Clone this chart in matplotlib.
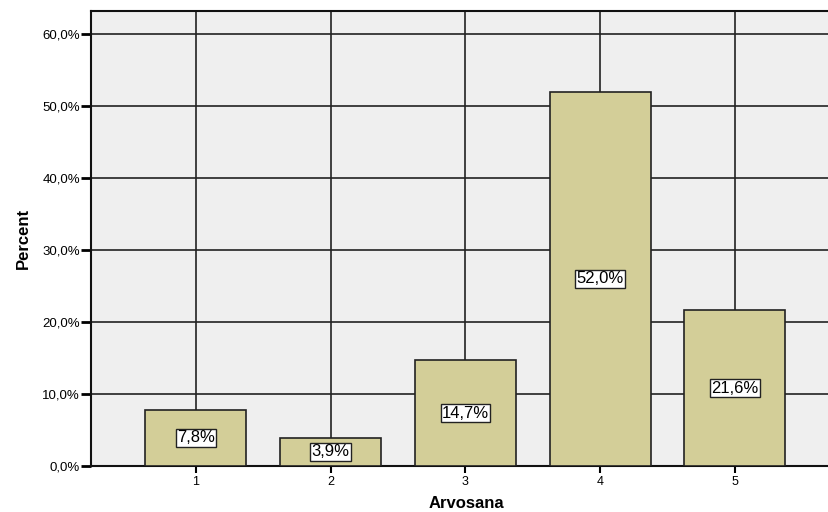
import matplotlib.pyplot as plt

categories = ["1", "2", "3", "4", "5"]
percents = [7.8, 3.9, 14.7, 52.0, 21.6]
yticks = [0, 10, 20, 30, 40, 50, 60]

plt.rcParams['font.family'] = ['Liberation Sans', 'DejaVu Sans']

fig = plt.figure(figsize=(8.29, 5.12), dpi=100)
ax = fig.add_axes([91/829, 46/512, 745/829, 455/512])
ax.set_facecolor('#efefef')

x = list(range(1, len(categories) + 1))
ax.bar(x, percents, width=0.75, color='#d3ce98', edgecolor='#222222',
       linewidth=1.2, zorder=3)

for xi, v in zip(x, percents):
    ax.text(xi, v / 2, f"{v:.1f}%".replace('.', ','), ha='center', va='center',
            fontsize=12, zorder=4,
            bbox=dict(boxstyle='square,pad=0.08', fc='white', ec='#222222', lw=1))

ax.set_xlim(0.221, 5.75)
ax.set_ylim(0, 63.2)
ax.set_xticks(x)
ax.set_xticklabels(categories, fontsize=9)
ax.set_yticks(yticks)
ax.set_yticklabels([f"{t:.1f}%".replace('.', ',') for t in yticks], fontsize=9.5)
ax.grid(True, color='#222222', linewidth=1.2, zorder=0)
ax.set_axisbelow(True)
ax.tick_params(axis='y', length=7, width=2, pad=1)
ax.tick_params(axis='x', length=5, width=1.5, pad=2)

ax.spines['right'].set_visible(False)
for s in ['left', 'top', 'bottom']:
    ax.spines[s].set_linewidth(1.5)
    ax.spines[s].set_color('#111111')

ax.set_xlabel("Arvosana", fontsize=12, fontweight='bold')
ax.xaxis.set_label_coords((466 - 91) / 745, -(504 - 466) / 455)
ax.xaxis.label.set_va('center')
ax.set_ylabel("Percent", fontsize=12, fontweight='bold', labelpad=8,
              fontstretch='condensed')

plt.savefig("out.png", dpi=100)
